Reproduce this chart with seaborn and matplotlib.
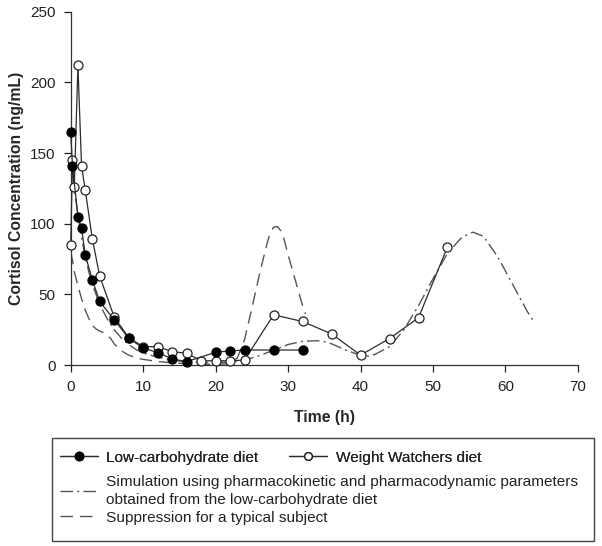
import numpy as np
import pandas as pd
import matplotlib
matplotlib.use("Agg")
import matplotlib.pyplot as plt
from matplotlib.lines import Line2D
from matplotlib.patches import Rectangle
import seaborn as sns

# ---- data ----
lc_time = [0, 0.25, 1, 1.5, 2, 3, 4, 6, 8, 10, 12, 14, 16, 20, 22, 24, 28, 32]
lc_conc = [165, 141, 105, 97, 78, 60, 45, 32, 19, 12, 8.8, 4.3, 2.4, 9, 10, 10.6, 10.6, 10.6]

ww_time = [0, 0.25, 0.5, 1, 1.5, 2, 3, 4, 6, 8, 10, 12, 14, 16, 18, 20, 22, 24,
           28, 32, 36, 40, 44, 48, 52]
ww_conc = [85, 145, 126, 212, 141, 124, 89, 63, 34, 19.4, 13, 13, 9.5, 8.3, 3, 3, 3, 3.5,
           35.5, 30.8, 22, 7, 18.7, 33.4, 83.6]

sim_time = [0, 0.5, 1, 1.5, 2, 2.5, 3, 4, 5, 6, 7, 8, 9, 10, 12, 14, 16, 18, 20, 22, 24,
            26, 28, 30, 32, 34, 35, 36, 38, 40, 41, 42, 44, 46, 48, 50, 52, 54, 55.5,
            57, 59, 61, 63, 64]
sim_conc = [150, 125, 106, 90, 77, 66, 57, 43, 33, 25, 19, 14.5, 11, 8.5, 5.5, 3.5, 2.2,
            1.6, 1.6, 2.2, 3.5, 6.5, 10.5, 14.5, 16.8, 17.2, 16.5, 15, 10.5, 6.8, 6.2,
            7.5, 13, 25, 42, 61, 79, 90.5, 94, 91, 76, 57, 38, 30]

sup_time = [0, 0.25, 0.5, 1, 1.5, 2, 2.5, 3, 3.5, 4, 4.5, 5, 5.5, 6, 7, 8, 9, 10, 12, 14,
            16, 18, 20, 22, 23, 24, 25, 26, 27, 27.5, 28, 28.5, 29, 29.5, 30, 31, 32, 32.4]
sup_conc = [80, 74, 66, 56, 47, 39, 33, 28, 25.5, 24, 23, 21, 19, 15, 10, 7, 5, 4, 2.5,
            1.5, 1, 0.5, 0.5, 1, 5, 18, 40, 63, 84, 93, 97.5, 98, 95, 88, 78, 60, 42, 36]

x_ticks = [0, 10, 20, 30, 40, 50, 60, 70]
y_ticks = [0, 50, 100, 150, 200, 250]

labels = ["Low-carbohydrate diet", "Weight Watchers diet",
          "Simulation using pharmacokinetic and pharmacodynamic parameters\nobtained from the low-carbohydrate diet",
          "Suppression for a typical subject"]

# ---- style ----
sns.set_theme(style="ticks")
plt.rcParams["font.family"] = ["Liberation Sans", "DejaVu Sans"]

fig = plt.figure(figsize=(6.02, 5.46), dpi=100)
ax = fig.add_axes([0.1174, 0.3315, 0.960 - 0.1174, 0.9786 - 0.3315])

line_col = "#2b2b2b"
dash_col = "#555555"
dashdot = (0, (9, 3, 1.5, 3))
dashed = (0, (9, 5))

df_sim = pd.DataFrame({"t": sim_time, "c": sim_conc})
df_sup = pd.DataFrame({"t": sup_time, "c": sup_conc})
df_lc = pd.DataFrame({"t": lc_time, "c": lc_conc})
df_ww = pd.DataFrame({"t": ww_time, "c": ww_conc})

sns.lineplot(data=df_sim, x="t", y="c", ax=ax, color=dash_col, linewidth=1.0,
             linestyle=dashdot, estimator=None, sort=False)
sns.lineplot(data=df_sup, x="t", y="c", ax=ax, color=dash_col, linewidth=1.0,
             linestyle=dashed, estimator=None, sort=False)
sns.lineplot(data=df_ww, x="t", y="c", ax=ax, color=line_col, linewidth=0.9,
             marker="o", markersize=6.5, markerfacecolor="white",
             markeredgecolor="#222222", markeredgewidth=0.9, estimator=None,
             sort=False, clip_on=False, zorder=4)
sns.lineplot(data=df_lc, x="t", y="c", ax=ax, color=line_col, linewidth=0.9,
             marker="o", markersize=6.5, markerfacecolor="black",
             markeredgecolor="black", markeredgewidth=0.9, estimator=None,
             sort=False, clip_on=False, zorder=5)

ax.set_xlim(0, 70)
ax.set_ylim(0, 250)
ax.set_xticks(x_ticks)
ax.set_yticks(y_ticks)
ax.tick_params(axis="both", labelsize=11, colors="#222222", length=5, width=0.9,
               direction="out", pad=6)
for s in ["top", "right"]:
    ax.spines[s].set_visible(False)
for s in ["left", "bottom"]:
    ax.spines[s].set_color("#333333")
    ax.spines[s].set_linewidth(0.9)
ax.set_xlabel("Time (h)", fontsize=11.3, fontweight="bold", labelpad=11)
ax.set_ylabel("Cortisol Concentration (ng/mL)", fontsize=11.3, fontweight="bold",
              labelpad=4)
ax.grid(False)

# ---- legend ----
fig.patches.append(Rectangle((0.0864, 0.0092), 0.9867 - 0.0864, 0.1978 - 0.0092,
                             transform=fig.transFigure, fill=False,
                             edgecolor="#444444", linewidth=1.0))

h_lc = Line2D([], [], color=line_col, lw=0.9, marker="o", ms=6,
              markerfacecolor="black", markeredgecolor="black")
h_ww = Line2D([], [], color=line_col, lw=0.9, marker="o", ms=5.5,
              markerfacecolor="white", markeredgecolor="#222222")
h_sim = Line2D([], [], color=dash_col, lw=1.0, linestyle=dashdot)
h_sup = Line2D([], [], color=dash_col, lw=1.0, linestyle=dashed)

leg1 = fig.legend(handles=[h_lc, h_ww], labels=labels[:2], ncol=2, frameon=False,
                  loc="upper left", bbox_to_anchor=(0.1, 0.1746), fontsize=11.1,
                  handlelength=2.45, handletextpad=0.55, columnspacing=2.0,
                  borderpad=0, borderaxespad=0)
leg2 = fig.legend(handles=[h_sim, h_sup], labels=labels[2:], ncol=1, frameon=False,
                  loc="upper left", bbox_to_anchor=(0.1, 0.130), fontsize=11.1,
                  handlelength=2.45, handletextpad=0.55, labelspacing=0.27,
                  borderpad=0, borderaxespad=0)
for t in leg1.get_texts() + leg2.get_texts():
    t.set_color("#222222")
for t in leg2.get_texts():
    t.set_linespacing(1.33)
fig.add_artist(leg1)

fig.savefig("out.png", dpi=100)
